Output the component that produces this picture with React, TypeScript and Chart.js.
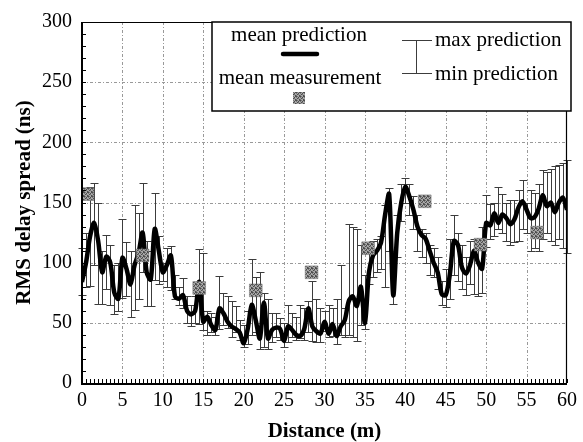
import React, { useEffect, useRef } from 'react';
import { Chart, registerables } from 'chart.js';

Chart.register(...registerables);

const distances = [
  0, 0.5, 1, 1.5, 2, 2.5, 3, 3.5, 4, 4.5,
  5, 5.5, 6, 6.5, 7, 7.5, 8, 8.5, 9, 9.5,
  10, 10.5, 11, 11.5, 12, 12.5, 13, 13.5, 14, 14.5,
  15, 15.5, 16, 16.5, 17, 17.5, 18, 18.5, 19, 19.5,
  20, 20.5, 21, 21.5, 22, 22.5, 23, 23.5, 24, 24.5,
  25, 25.5, 26, 26.5, 27, 27.5, 28, 28.5, 29, 29.5,
  30, 30.5, 31, 31.5, 32, 32.5, 33, 33.5, 34, 34.5,
  35, 35.5, 36, 36.5, 37, 37.5, 38, 38.5, 39, 39.5,
  40, 40.5, 41, 41.5, 42, 42.5, 43, 43.5, 44, 44.5,
  45, 45.5, 46, 46.5, 47, 47.5, 48, 48.5, 49, 49.5,
  50, 50.5, 51, 51.5, 52, 52.5, 53, 53.5, 54, 54.5,
  55, 55.5, 56, 56.5, 57, 57.5, 58, 58.5, 59, 59.5,
  60,
];

const meanPrediction = [
  84, 100, 122, 133, 118, 92, 105, 100, 75, 70,
  104, 95, 82, 98, 108, 125, 92, 86, 128, 110,
  92, 98, 106, 72, 70, 73, 60, 57, 60, 84,
  51, 55, 48, 44, 62, 58, 51, 47, 45, 42,
  33, 45, 65, 52, 37, 67, 37, 44, 46, 45,
  35, 47, 44, 40, 39, 45, 62, 47, 43, 41,
  51, 41, 49, 39, 47, 52, 68, 72, 64, 80,
  50, 92, 106, 110, 117, 140, 157, 73, 125, 150,
  163, 155, 144, 130, 123, 120, 110, 100, 92, 74,
  73, 90, 118, 115, 96, 91, 98, 110, 100, 95,
  133, 131, 141, 133, 140, 137, 132, 136, 146, 151,
  144, 137, 138, 145, 156, 147, 150, 142, 150, 154,
  144,
];

const maxPrediction = [
  112, 125, 163, 166, 150, 110, 123, 115, 98, 100,
  136, 117, 110, 148, 141, 166, 118, 110, 158, 122,
  100, 112, 114, 90, 80, 87, 72, 65, 72, 111,
  108, 60, 58, 55, 89, 75, 72, 68, 64, 52,
  48, 60, 103, 88, 92, 75, 70, 58, 58, 54,
  50, 65, 58, 55, 65, 62, 68, 85, 70, 62,
  60, 65, 62, 70, 98, 62, 132, 130, 128, 115,
  90, 116, 118, 120, 122, 148, 162, 100, 140, 165,
  170, 165, 155, 140, 128, 125, 115, 112, 105, 85,
  95, 120, 140, 125, 115, 105, 118, 120, 112, 130,
  156, 149, 150, 163, 157, 150, 152, 152, 160, 169,
  150, 160, 158, 165, 177, 175, 178, 180, 181, 183,
  185,
];

const minPrediction = [
  73, 80, 81, 98, 66, 66, 78, 65, 57, 60,
  71, 72, 55, 61, 70, 92, 64, 64, 86, 82,
  85, 80, 77, 70, 65, 62, 50, 47, 50, 49,
  44, 40, 42, 40, 45, 48, 46, 38, 42, 36,
  30, 32, 40, 42, 28, 30, 28, 34, 38, 36,
  30, 34, 38, 36, 37, 36, 42, 35, 34, 34,
  43, 38, 39, 32, 40, 38, 40, 38, 35, 48,
  45, 82, 88, 92, 95, 80, 110, 66, 105, 135,
  150, 140, 128, 110, 105, 100, 90, 88, 78, 65,
  63, 70, 90, 85, 78, 73, 82, 74, 72, 75,
  113, 120, 122, 128, 125, 118, 115, 117, 118, 128,
  125, 110, 112, 110, 120, 125, 118, 115, 120, 112,
  108,
];

const measurementDistances = [0.7, 7.5, 14.5, 21.5, 28.4, 35.4, 42.4, 49.3, 56.3];
const meanMeasurement = [157, 106, 79, 77, 92, 112, 151, 115, 125];

const xTickValues = [0, 5, 10, 15, 20, 25, 30, 35, 40, 45, 50, 55, 60];
const yTickValues = [0, 50, 100, 150, 200, 250, 300];

const legendLabels = {
  mean: 'mean prediction',
  measurement: 'mean measurement',
  max: 'max prediction',
  min: 'min prediction',
};

const SERIF = "'Liberation Serif', 'Times New Roman', serif";

function makeSpeckle(): CanvasPattern | string {
  const c = document.createElement('canvas');
  c.width = 4;
  c.height = 4;
  const g = c.getContext('2d');
  if (!g) return '#8c8c8c';
  g.fillStyle = '#a8a8a8';
  g.fillRect(0, 0, 4, 4);
  g.fillStyle = '#4c4c4c';
  g.fillRect(0, 0, 1, 1);
  g.fillRect(2, 1, 1, 1);
  g.fillRect(1, 2, 1, 1);
  g.fillRect(3, 3, 1, 1);
  g.fillRect(3, 0, 1, 1);
  g.fillStyle = '#777777';
  g.fillRect(1, 0, 1, 1);
  g.fillRect(0, 3, 1, 1);
  g.fillRect(2, 2, 1, 1);
  g.fillRect(0, 1, 1, 1);
  const p = g.createPattern(c, 'repeat');
  return p || '#8c8c8c';
}

export default function App() {
  const canvasRef = useRef<HTMLCanvasElement | null>(null);

  useEffect(() => {
    const canvas = canvasRef.current;
    if (!canvas) return;
    const speckle = makeSpeckle();

    const backgroundPlugin = {
      id: 'bgAndBars',
      beforeDraw(chart: any) {
        const ctx = chart.ctx;
        ctx.save();
        ctx.fillStyle = '#ffffff';
        ctx.fillRect(0, 0, chart.width, chart.height);
        ctx.restore();
      },
      beforeDatasetsDraw(chart: any) {
        const { ctx, chartArea, scales } = chart;
        const { left, right, top, bottom } = chartArea;
        const xs = scales.x;
        const ys = scales.y;
        ctx.save();
        ctx.strokeStyle = '#999999';
        ctx.lineWidth = 1;
        ctx.setLineDash([3, 2, 1, 2]);
        xTickValues.forEach((v) => {
          if (v <= xs.min || v >= xs.max) return;
          const px = Math.round(xs.getPixelForValue(v)) + 0.5;
          ctx.beginPath();
          ctx.moveTo(px, top);
          ctx.lineTo(px, bottom);
          ctx.stroke();
        });
        yTickValues.forEach((v) => {
          if (v <= ys.min || v >= ys.max) return;
          const py = Math.round(ys.getPixelForValue(v)) + 0.5;
          ctx.beginPath();
          ctx.moveTo(left, py);
          ctx.lineTo(right, py);
          ctx.stroke();
        });
        ctx.setLineDash([]);
        ctx.strokeStyle = '#3c3c3c';
        ctx.lineWidth = 1;
        const cap = 4;
        distances.forEach((d, i) => {
          const px = Math.round(xs.getPixelForValue(d)) + 0.5;
          const pTop = Math.round(ys.getPixelForValue(maxPrediction[i])) + 0.5;
          const pBot = Math.round(ys.getPixelForValue(minPrediction[i])) + 0.5;
          ctx.beginPath();
          ctx.moveTo(px, pTop);
          ctx.lineTo(px, pBot);
          ctx.moveTo(px - cap, pTop);
          ctx.lineTo(px + cap, pTop);
          ctx.moveTo(px - cap, pBot);
          ctx.lineTo(px + cap, pBot);
          ctx.stroke();
        });
        ctx.restore();
      },
      afterDatasetsDraw(chart: any) {
        const { ctx, chartArea, scales } = chart;
        const { left, right, top, bottom } = chartArea;
        const xs = scales.x;
        const ys = scales.y;
        ctx.save();
        ctx.strokeStyle = '#000000';
        ctx.lineWidth = 1.2;
        ctx.beginPath();
        ctx.moveTo(left, top + 0.5);
        ctx.lineTo(right, top + 0.5);
        ctx.moveTo(right - 0.5, top);
        ctx.lineTo(right - 0.5, bottom);
        ctx.stroke();
        ctx.lineWidth = 2;
        ctx.beginPath();
        ctx.moveTo(left, top);
        ctx.lineTo(left, bottom + 1);
        ctx.lineTo(right, bottom + 1);
        ctx.stroke();
        ctx.lineWidth = 1;
        ctx.beginPath();
        distances.forEach((d) => {
          const px = Math.round(xs.getPixelForValue(d)) + 0.5;
          ctx.moveTo(px, bottom);
          ctx.lineTo(px, bottom - 4);
        });
        for (let v = 10; v < 300; v += 10) {
          const py = Math.round(ys.getPixelForValue(v)) + 0.5;
          ctx.moveTo(left, py);
          ctx.lineTo(left + 4, py);
        }
        ctx.stroke();

        ctx.fillStyle = '#ffffff';
        ctx.fillRect(212, 22, 359, 89);
        ctx.strokeStyle = '#000000';
        ctx.lineWidth = 1.5;
        ctx.strokeRect(212, 22, 359, 89);

        ctx.fillStyle = '#000000';
        ctx.font = `21px ${SERIF}`;
        ctx.textBaseline = 'middle';
        ctx.textAlign = 'center';
        ctx.fillText(legendLabels.mean, 299, 35);
        ctx.fillText(legendLabels.measurement, 300, 78);
        ctx.lineWidth = 4.5;
        ctx.lineCap = 'round';
        ctx.beginPath();
        ctx.moveTo(283, 54);
        ctx.lineTo(317, 54);
        ctx.stroke();
        ctx.lineCap = 'butt';
        ctx.fillStyle = speckle as any;
        ctx.fillRect(293, 92, 12, 12);
        ctx.strokeStyle = '#3c3c3c';
        ctx.lineWidth = 1;
        ctx.beginPath();
        ctx.moveTo(416.5, 40);
        ctx.lineTo(416.5, 73);
        ctx.moveTo(402, 40.5);
        ctx.lineTo(432, 40.5);
        ctx.moveTo(402, 73.5);
        ctx.lineTo(432, 73.5);
        ctx.stroke();
        ctx.fillStyle = '#000000';
        ctx.textAlign = 'left';
        ctx.fillText(legendLabels.max, 435, 40);
        ctx.fillText(legendLabels.min, 435, 74);
        ctx.restore();
      },
    };

    const chart = new Chart(canvas, {
      type: 'line',
      data: {
        datasets: [
          {
            type: 'scatter',
            label: 'mean measurement',
            data: measurementDistances.map((d, i) => ({ x: d, y: meanMeasurement[i] })),
            pointStyle: 'rect',
            pointRadius: 9,
            pointHoverRadius: 9,
            backgroundColor: speckle as any,
            borderColor: '#707070',
            borderWidth: 0.5,
            showLine: false,
          } as any,
          {
            type: 'line',
            label: 'mean prediction',
            data: distances.map((d, i) => ({ x: d, y: meanPrediction[i] })),
            borderColor: '#000000',
            borderWidth: 4.5,
            pointRadius: 0,
            tension: 0.3,
            fill: false,
          } as any,
        ],
      },
      options: {
        responsive: false,
        animation: false,
        events: [],
        layout: { padding: { top: 18, right: 8, left: 0, bottom: 0 } },
        plugins: {
          legend: { display: false },
          tooltip: { enabled: false },
        },
        scales: {
          x: {
            type: 'linear',
            min: 0,
            max: 60,
            grid: { display: false, drawTicks: false },
            border: { display: false },
            ticks: {
              stepSize: 5,
              padding: 6,
              color: '#000000',
              font: { family: SERIF, size: 20 },
              autoSkip: false,
              maxRotation: 0,
            },
            title: {
              display: true,
              text: 'Distance (m)',
              color: '#000000',
              font: { family: SERIF, size: 21, weight: 'bold', lineHeight: 1 },
              padding: { top: 0, bottom: 0 },
            },
            afterFit(scale: any) {
              scale.height = 59;
            },
          },
          y: {
            type: 'linear',
            min: 0,
            max: 300,
            grid: { display: false, drawTicks: false },
            border: { display: false },
            ticks: {
              stepSize: 50,
              padding: 10,
              color: '#000000',
              font: { family: SERIF, size: 20 },
            },
            title: {
              display: true,
              text: 'RMS delay spread (ns)',
              color: '#000000',
              font: { family: SERIF, size: 21, weight: 'bold', lineHeight: 1 },
              padding: { top: 14, bottom: 0 },
            },
            afterFit(scale: any) {
              scale.width = 82;
            },
          },
        },
      },
      plugins: [backgroundPlugin],
    });

    return () => {
      chart.destroy();
    };
  }, []);

  return (
    <div style={{ position: 'fixed', left: 0, top: 0, width: 583, height: 442, background: '#ffffff' }}>
      <canvas ref={canvasRef} width={583} height={442} style={{ display: 'block', width: 583, height: 442 }} />
    </div>
  );
}
